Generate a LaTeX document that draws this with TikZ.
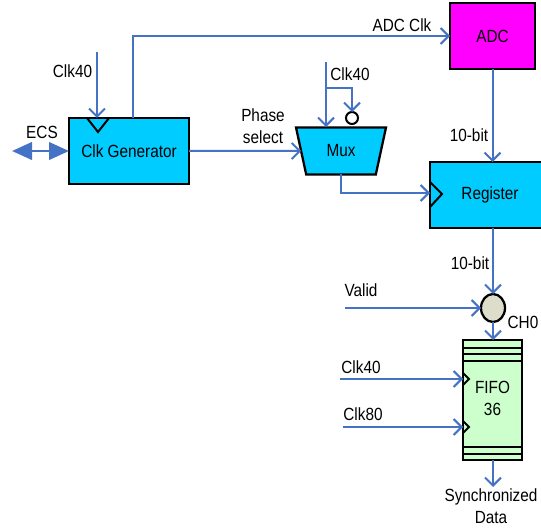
\documentclass[tikz,border=0pt]{standalone}
\usepackage{fontspec}
\setmainfont{Liberation Sans}
\usetikzlibrary{arrows.meta,shapes.geometric}
\definecolor{lblue}{RGB}{68,114,196}
\definecolor{boxcyan}{RGB}{0,204,255}
\definecolor{boxmag}{RGB}{255,0,255}
\definecolor{boxgreen}{RGB}{204,255,204}
\definecolor{chfill}{RGB}{221,221,204}
\newcommand{\T}[1]{\scalebox{1}[1.15]{#1}}
\newcommand{\TT}[1]{\scalebox{1}[1.15]{\begin{tabular}{@{}c@{}}#1\end{tabular}}}
\tikzset{
  blk/.style={draw=black, line width=1.7pt, inner sep=0pt, outer sep=0pt, font=\fontsize{11.5}{14}\selectfont},
  arr/.style={draw=lblue, line width=1.5pt, -{Straight Barb[length=6pt,width=12pt,line width=1.5pt]}},
  ecsarr/.style={draw=lblue, line width=2.2pt, {Triangle[length=15pt,width=13pt]}-{Triangle[length=15pt,width=13pt]}},
  lbl/.style={inner sep=0pt, font=\fontsize{11.5}{14}\selectfont},
  clk/.style={draw=black, line width=1.5pt}
}
\begin{document}
\begin{tikzpicture}[x=0.75pt,y=-0.75pt]
\useasboundingbox (0,0) rectangle (541,530);
% blocks
\node[blk, fill=boxcyan, minimum width=90pt, minimum height=49.5pt] (cg) at (129,151) {\T{Clk Generator}};
\node[blk, fill=boxmag, minimum width=63.75pt, minimum height=49.5pt] (adc) at (492.5,36) {\T{ADC}};
\node[blk, fill=boxcyan, trapezium, shape border rotate=180, trapezium stretches=true,
      trapezium left angle=71, trapezium right angle=71,
      minimum width=67.5pt, minimum height=35.25pt] (mux) at (341,151) {\T{Mux}};
\node[draw=black, line width=1.5pt, fill=white, circle, minimum size=9pt, inner sep=0pt, outer sep=0pt] (bub) at (352,118) {};
\node[blk, fill=boxcyan, minimum width=90pt, minimum height=49.5pt] (reg) at (490,195) {\T{Register}};
\node[draw=black, line width=1.7pt, fill=chfill, ellipse, minimum width=18pt, minimum height=21pt, inner sep=0pt, outer sep=0pt] (ch) at (493,308) {};
\node[blk, fill=boxgreen, minimum width=44.25pt, minimum height=90pt] (fifo) at (492.5,400) {\TT{FIFO\\36}};
% fifo bands
\foreach \yy in {348,354,361,447,454}
  \draw[line width=1.5pt] (fifo.west |- 0,\yy) -- (fifo.east |- 0,\yy);
% clock triangles
\draw[clk] (87,118) -- (98,132) -- (109,118);
\draw[clk] (430,182) -- (442,194) -- (430,207);
\draw[clk] (463,373) -- (469,379) -- (463,385);
\draw[clk] (463,421) -- (469,427) -- (463,433);
% coordinates
\coordinate (c40a) at (97,52);
\coordinate (adcx) at (133,118);
\coordinate (ecs) at (12,151);
\coordinate (m40) at (326,62);
\coordinate (m40b) at (326,88);
\coordinate (val) at (345,308);
\coordinate (f40) at (340,379);
\coordinate (f80) at (343,427);
\coordinate (out) at (493,487);
% connectors
\draw[arr] (c40a) -- (c40a |- cg.north);
\draw[arr] (adcx) |- (adc.west);
\draw[ecsarr] (ecs) -- (cg.west);
\draw[arr] (cg) -- (mux);
\draw[arr] (m40) -- (326,127);
\draw[arr] (m40b) -| (bub.north);
\draw[arr] (341,174) |- (reg.west |- 0,193);
\draw[arr] (adc.south) -- (adc.south |- reg.north);
\draw[arr] (reg.south -| ch) -- (ch.north);
\draw[arr] (val) -- (ch.west);
\draw[arr] (ch.south) -- (ch.south |- fifo.north);
\draw[arr] (f40) -- (fifo.west |- f40);
\draw[arr] (f80) -- (fifo.west |- f80);
\draw[arr] (fifo.south -| out) -- (out);
% labels
\node[lbl] at (72.5,71) {\T{Clk40}};
\node[lbl] at (42,132) {\T{ECS}};
\node[lbl] at (402,25) {\T{ADC Clk}};
\node[lbl] at (263,128) {\TT{Phase\\select}};
\node[lbl] at (350,74) {\T{Clk40}};
\node[lbl] at (469,135) {\T{10-bit}};
\node[lbl] at (470,263) {\T{10-bit}};
\node[lbl] at (361,290) {\T{Valid}};
\node[lbl] at (523,322) {\T{CH0}};
\node[lbl] at (361,367) {\T{Clk40}};
\node[lbl] at (363,414) {\T{Clk80}};
\node[lbl] at (491,508) {\TT{Synchronized\\Data}};
\end{tikzpicture}
\end{document}
